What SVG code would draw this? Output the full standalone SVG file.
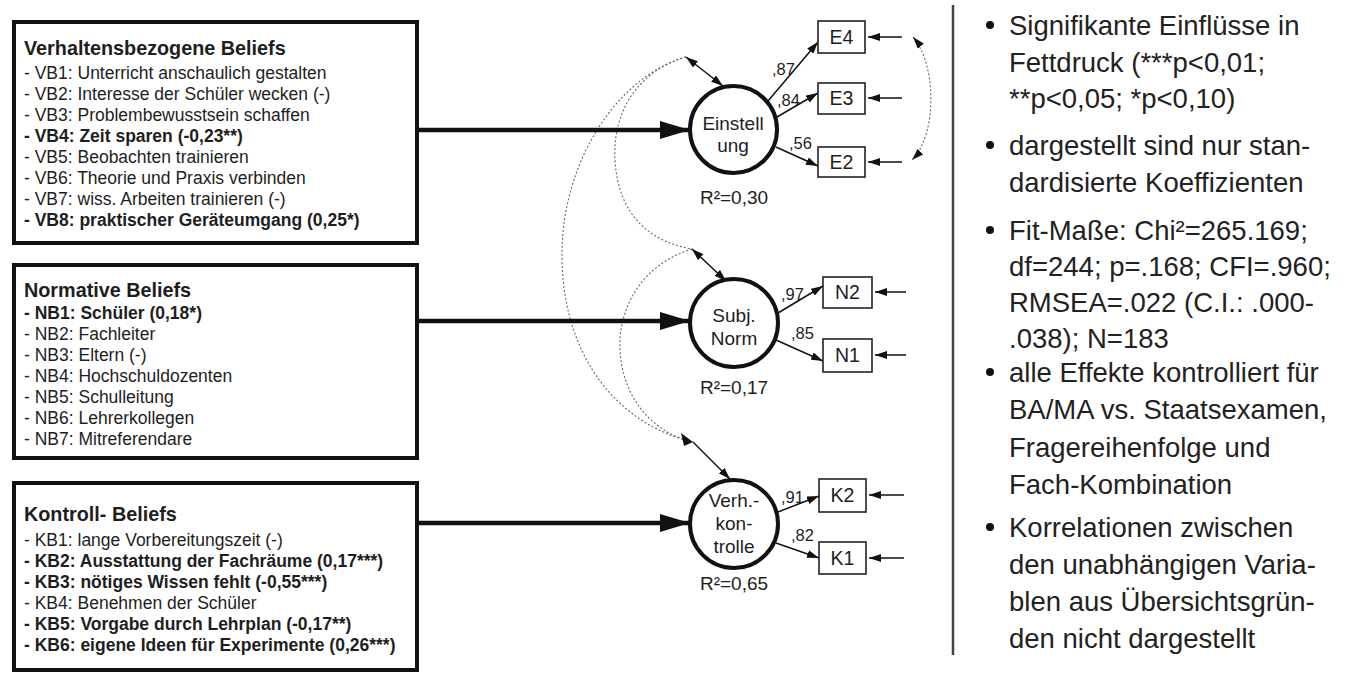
<svg xmlns="http://www.w3.org/2000/svg" width="1351" height="675" viewBox="0 0 1351 675">
<style>
text{font-family:"Liberation Sans",Arial,sans-serif;fill:#1e1e1e}
.box{fill:#fff;stroke:#111;stroke-width:4}
.t{font-size:19.8px;font-weight:bold}
.i{font-size:17.5px}
.b{font-size:17.5px;font-weight:bold}
.lat{fill:#fff;stroke:#111;stroke-width:4}
.ct{font-size:19px;text-anchor:middle}
.ind{fill:#fff;stroke:#222;stroke-width:1.6}
.it{font-size:19.5px;text-anchor:middle}
.ld{font-size:16.5px}
.thick{stroke:#111;stroke-width:4.5;fill:none}
.thin{stroke:#111;stroke-width:1.5;fill:none}
.dot{stroke:#666;stroke-width:1.1;stroke-dasharray:2 2;fill:none}
.r{font-size:27.5px;fill:#222}
</style>
<defs>
<marker id="big" markerUnits="userSpaceOnUse" markerWidth="30" markerHeight="18" refX="30" refY="9" orient="auto"><path d="M0,0 L30,9 L0,18 z" fill="#111"/></marker>
<marker id="ah" markerUnits="userSpaceOnUse" markerWidth="12" markerHeight="8" refX="12" refY="4" orient="auto-start-reverse"><path d="M0,0 L12,4 L0,8 z" fill="#111"/></marker>
</defs>

<g id="box-vb">
<rect class="box" x="14" y="22" width="403" height="221"/>
<text class="t" x="24" y="55">Verhaltensbezogene Beliefs</text>
<text class="i" x="24" y="79">- VB1: Unterricht anschaulich gestalten</text>
<text class="i" x="24" y="100">- VB2: Interesse der Schüler wecken (-)</text>
<text class="i" x="24" y="121">- VB3: Problembewusstsein schaffen</text>
<text class="b" x="24" y="142">- VB4: Zeit sparen (-0,23**)</text>
<text class="i" x="24" y="163">- VB5: Beobachten trainieren</text>
<text class="i" x="24" y="184">- VB6: Theorie und Praxis verbinden</text>
<text class="i" x="24" y="205">- VB7: wiss. Arbeiten trainieren (-)</text>
<text class="b" x="24" y="226">- VB8: praktischer Geräteumgang (0,25*)</text>
</g>

<g id="box-nb">
<rect class="box" x="14" y="265" width="403" height="193"/>
<text class="t" x="24" y="297">Normative Beliefs</text>
<text class="b" x="24" y="319">- NB1: Schüler (0,18*)</text>
<text class="i" x="24" y="340">- NB2: Fachleiter</text>
<text class="i" x="24" y="361">- NB3: Eltern (-)</text>
<text class="i" x="24" y="382">- NB4: Hochschuldozenten</text>
<text class="i" x="24" y="403">- NB5: Schulleitung</text>
<text class="i" x="24" y="424">- NB6: Lehrerkollegen</text>
<text class="i" x="24" y="445">- NB7: Mitreferendare</text>
</g>

<g id="box-kb">
<rect class="box" x="14" y="483" width="403" height="187"/>
<text class="t" x="24" y="521">Kontroll- Beliefs</text>
<text class="i" x="24" y="546">- KB1: lange Vorbereitungszeit (-)</text>
<text class="b" x="24" y="567">- KB2: Ausstattung der Fachräume (0,17***)</text>
<text class="b" x="24" y="588">- KB3: nötiges Wissen fehlt (-0,55***)</text>
<text class="i" x="24" y="609">- KB4: Benehmen der Schüler</text>
<text class="b" x="24" y="630">- KB5: Vorgabe durch Lehrplan (-0,17**)</text>
<text class="b" x="24" y="651">- KB6: eigene Ideen für Experimente (0,26***)</text>
</g>

<g id="connectors">
<path class="dot" d="M686,57 C620,75 560,160 562,260 C564,360 620,425 693,442"/>
<path class="dot" d="M686,57 C640,70 612,110 615,160 C618,215 650,242 692,249"/>
<path class="dot" d="M692,249 C640,265 618,310 620,350 C622,395 650,432 693,442"/>
<path class="thin" d="M686,57 L723,86" marker-start="url(#ah)" marker-end="url(#ah)"/>
<path class="thin" d="M692,249 L726,281" marker-start="url(#ah)" marker-end="url(#ah)"/>
<path class="thin" d="M693,442 L730,479" marker-end="url(#ah)"/>
<path d="M681,433 L693,442 L684,446 z" fill="#111"/>
<path class="dot" d="M913,37 C937,65 937,135 912,160" marker-start="url(#ah)" marker-end="url(#ah)"/>
<line class="thick" x1="417" y1="130" x2="690" y2="130" marker-end="url(#big)"/>
<line class="thick" x1="417" y1="321" x2="690" y2="321" marker-end="url(#big)"/>
<line class="thick" x1="417" y1="523" x2="690" y2="523" marker-end="url(#big)"/>
<line class="thin" x1="768" y1="101" x2="818" y2="42" marker-end="url(#ah)"/>
<line class="thin" x1="777" y1="117" x2="818" y2="93" marker-end="url(#ah)"/>
<line class="thin" x1="776" y1="147" x2="818" y2="166" marker-end="url(#ah)"/>
<line class="thin" x1="778" y1="313" x2="823" y2="286" marker-end="url(#ah)"/>
<line class="thin" x1="776" y1="340" x2="823" y2="361" marker-end="url(#ah)"/>
<line class="thin" x1="778" y1="512" x2="819" y2="496" marker-end="url(#ah)"/>
<line class="thin" x1="776" y1="543" x2="819" y2="558" marker-end="url(#ah)"/>
<line class="thin" x1="902" y1="37" x2="868" y2="37" marker-end="url(#ah)"/>
<line class="thin" x1="902" y1="98" x2="868" y2="98" marker-end="url(#ah)"/>
<line class="thin" x1="902" y1="162" x2="868" y2="162" marker-end="url(#ah)"/>
<line class="thin" x1="906" y1="292" x2="875" y2="292" marker-end="url(#ah)"/>
<line class="thin" x1="906" y1="355" x2="875" y2="355" marker-end="url(#ah)"/>
<line class="thin" x1="904" y1="495" x2="869" y2="495" marker-end="url(#ah)"/>
<line class="thin" x1="904" y1="558" x2="869" y2="558" marker-end="url(#ah)"/>
<text class="ld" x="772" y="75">,87</text>
<text class="ld" x="777" y="106">,84</text>
<text class="ld" x="789" y="149">,56</text>
<text class="ld" x="781" y="300">,97</text>
<text class="ld" x="791" y="339">,85</text>
<text class="ld" x="781" y="503">,91</text>
<text class="ld" x="791" y="541">,82</text>
</g>

<g id="einstellung">
<circle class="lat" cx="733.5" cy="129.5" r="43.5"/>
<text class="ct" x="733" y="130">Einstell</text>
<text class="ct" x="733" y="152">ung</text>
<text class="ct" x="734" y="204">R²=0,30</text>
</g>
<g id="subjnorm">
<circle class="lat" cx="734" cy="323" r="44"/>
<text class="ct" x="734" y="322">Subj.</text>
<text class="ct" x="734" y="345">Norm</text>
<text class="ct" x="734" y="394">R²=0,17</text>
</g>
<g id="verhkontrolle">
<circle class="lat" cx="734" cy="524" r="44"/>
<text class="ct" x="734" y="507">Verh.-</text>
<text class="ct" x="734" y="530">kon-</text>
<text class="ct" x="734" y="553">trolle</text>
<text class="ct" x="734" y="590">R²=0,65</text>
</g>

<g id="e4"><rect class="ind" x="818" y="21" width="47" height="32"/><text class="it" x="841.5" y="44">E4</text></g>
<g id="e3"><rect class="ind" x="818" y="83" width="47" height="31"/><text class="it" x="841.5" y="105">E3</text></g>
<g id="e2"><rect class="ind" x="818" y="147" width="47" height="30"/><text class="it" x="841.5" y="169">E2</text></g>
<g id="n2"><rect class="ind" x="823" y="277" width="49" height="31"/><text class="it" x="847.5" y="299">N2</text></g>
<g id="n1"><rect class="ind" x="823" y="339" width="49" height="33"/><text class="it" x="847.5" y="362">N1</text></g>
<g id="k2"><rect class="ind" x="819" y="479" width="47" height="33"/><text class="it" x="842.5" y="502">K2</text></g>
<g id="k1"><rect class="ind" x="819" y="542" width="47" height="32"/><text class="it" x="842.5" y="565">K1</text></g>

<g id="notes">
<line x1="953" y1="5" x2="953" y2="655" stroke="#444" stroke-width="2.5"/>
<circle cx="990" cy="25" r="4" fill="#111"/>
<circle cx="990" cy="145" r="4" fill="#111"/>
<circle cx="990" cy="230" r="4" fill="#111"/>
<circle cx="990" cy="372" r="4" fill="#111"/>
<circle cx="990" cy="527" r="4" fill="#111"/>
<text class="r" x="1009" y="35">Signifikante Einflüsse in</text>
<text class="r" x="1009" y="72">Fettdruck (***p&lt;0,01;</text>
<text class="r" x="1009" y="108">**p&lt;0,05; *p&lt;0,10)</text>
<text class="r" x="1009" y="155">dargestellt sind nur stan-</text>
<text class="r" x="1009" y="192">dardisierte Koeffizienten</text>
<text class="r" x="1009" y="240">Fit-Maße: Chi²=265.169;</text>
<text class="r" x="1009" y="276">df=244; p=.168; CFI=.960;</text>
<text class="r" x="1009" y="312">RMSEA=.022 (C.I.: .000-</text>
<text class="r" x="1009" y="348">.038); N=183</text>
<text class="r" x="1009" y="382">alle Effekte kontrolliert für</text>
<text class="r" x="1009" y="419">BA/MA vs. Staatsexamen,</text>
<text class="r" x="1009" y="457">Fragereihenfolge und</text>
<text class="r" x="1009" y="494">Fach-Kombination</text>
<text class="r" x="1009" y="537">Korrelationen zwischen</text>
<text class="r" x="1009" y="574">den unabhängigen Varia-</text>
<text class="r" x="1009" y="611">blen aus Übersichtsgrün-</text>
<text class="r" x="1009" y="648">den nicht dargestellt</text>
</g>
</svg>
